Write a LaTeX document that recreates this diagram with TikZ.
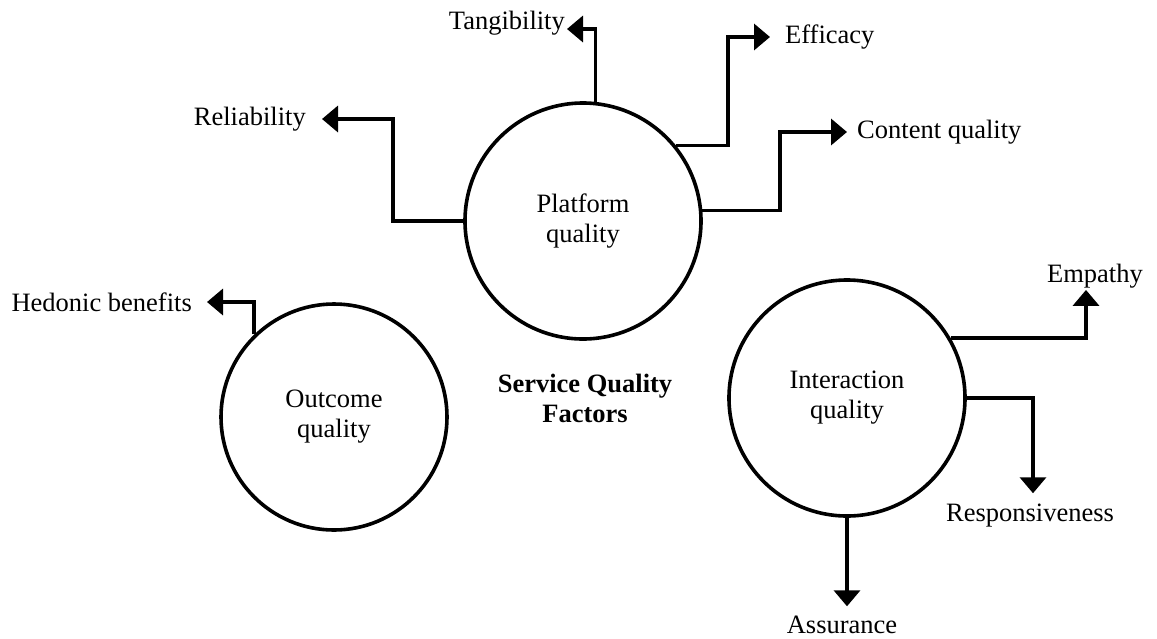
\documentclass[tikz,border=0pt]{standalone}
\usepackage{fontspec}
\setmainfont{Liberation Serif}
\usetikzlibrary{arrows.meta}
\begin{document}
\begin{tikzpicture}[x=1pt,y=-1pt,
  txt/.style={font=\fontsize{26.5}{30}\selectfont},
  factor/.style={txt,circle,draw,line width=3.6pt,minimum size=236pt,inner sep=0pt,align=center},
  lbl/.style={txt,inner sep=0pt},
  conn/.style={line width=3.6pt,-{Triangle[length=16pt,width=26pt]}}]
\useasboundingbox (0,0) rectangle (1157,638);

% the three factor groups
\node[factor] (plat) at (583,221) {Platform\\quality};
\node[factor,minimum size=226pt] (out) at (334,417) {Outcome\\quality};
\node[factor] (int) at (847,398) {Interaction\\quality};
\node[lbl,align=center,font=\bfseries\fontsize{26.5}{30}\selectfont] (sqf) at (585,398) {Service Quality\\Factors};

% dimension labels
\node[lbl,anchor=base east] (tan) at (565,29) {Tangibility};
\node[lbl,anchor=west] (eff) at (785,37) {Efficacy};
\node[lbl,anchor=east] (rel) at (306,119) {Reliability};
\node[lbl,anchor=west] (con) at (857,132) {Content quality};
\node[lbl,anchor=east] (hed) at (192,302) {Hedonic benefits};
\node[lbl,anchor=base] (emp) at (1095,282) {Empathy};
\node[lbl,anchor=base] (res) at (1030,521) {Responsiveness};
\node[lbl,anchor=base] (ass) at (842,633) {Assurance};

% connectors
\draw[conn] (plat.84) |- ([xshift=2pt]tan.base east);
\draw[conn] (plat.39) -| ([xshift=-57pt]eff.west) -- ([xshift=-15pt]eff.west);
\draw[conn] (plat.180) -| ([xshift=87pt]rel.east) -- ([xshift=16pt]rel.east);
\draw[conn] (plat.5) -| ([xshift=-77pt]con.west) -- ([xshift=-10pt]con.west);
\draw[conn] (out.134) |- ([xshift=15pt]hed.east);
\draw[conn] (int.30) -| ([xshift=-9pt,yshift=-2pt]emp.south);
\draw[conn] (int.0) -| ([xshift=3pt,yshift=10pt]res.north);
\draw[conn,shorten >=9pt] (int.south) -- (int.south |- ass.north);
\end{tikzpicture}
\end{document}
